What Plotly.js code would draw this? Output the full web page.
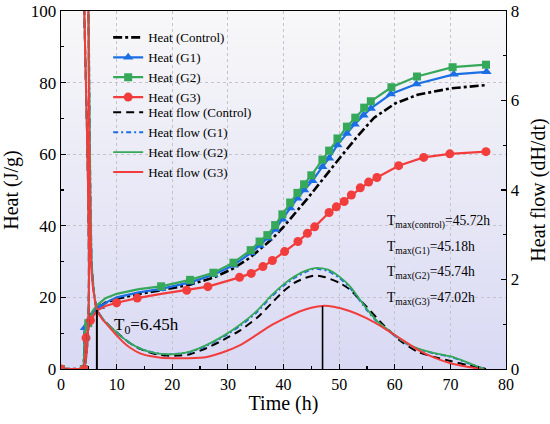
<!DOCTYPE html>
<html>
<head>
<meta charset="utf-8">
<script src="https://cdn.plot.ly/plotly-3.0.1.min.js"></script>
<style>
html,body{margin:0;padding:0;background:#fff;}
#chart{width:550px;height:424px;}
</style>
</head>
<body>
<div id="chart"></div>
<script>
// ---------- Heat (J/g), left axis ----------
const CTRL_HEAT_T = [0, 4.1, 4.3, 4.6, 5.2, 6.45, 8, 10, 14, 18, 23, 27.4, 31, 34, 38, 40, 44.3, 47.3, 50.3, 53.3, 56.3, 60.1, 64.1, 70.1, 76.4];
const CTRL_HEAT   = [0, 0, 10.5, 13.0, 15.0, 16.8, 18.5, 19.6, 21.0, 22.0, 23.5, 25.5, 28.1, 31.1, 36.4, 39.7, 47.6, 53.6, 59.3, 65.0, 70.2, 74.2, 76.6, 78.4, 79.3];

const G1_HEAT_T = [0, 4.1, 4.3, 5.0, 6.0, 7.0, 8.5, 10, 14, 18, 23.2, 27.4, 31.0, 34.1, 35.7, 37.1, 38.5, 39.8, 41.2, 42.5, 43.7, 45.2, 47.0, 48.2, 49.7, 51.4, 52.8, 54.4, 55.7, 59.3, 63.9, 70.6, 76.5];
const G1_HEAT   = [0, 0, 11.5, 14.3, 16.2, 17.4, 18.9, 20.0, 21.4, 22.4, 24.2, 26.3, 29.0, 32.4, 34.5, 36.5, 39.0, 41.8, 45.0, 47.7, 50.0, 52.6, 56.5, 58.9, 62.6, 65.8, 68.4, 70.9, 72.8, 76.8, 79.6, 82.3, 83.0];
const G1_MARKS  = [0, 4.1, 4.3, 7.0, 18, 23.2, 27.4, 31.0, 34.1, 35.7, 37.1, 38.5, 39.8, 41.2, 42.5, 43.7, 45.2, 47.0, 48.2, 49.7, 51.4, 52.8, 54.4, 55.7, 59.3, 63.9, 70.6, 76.5];

const G2_HEAT_T = [0, 4.1, 4.3, 4.9, 5.6, 6.45, 8, 10, 14, 18.0, 23.2, 27.4, 31.0, 34.1, 35.7, 37.1, 38.5, 39.8, 41.2, 42.5, 43.7, 45.0, 47.0, 48.2, 49.7, 51.4, 52.9, 54.5, 55.7, 59.4, 64.0, 70.4, 76.4];
const G2_HEAT   = [0, 0, 10.5, 12.8, 16.0, 17.8, 19.8, 21.0, 22.3, 23.1, 24.9, 26.9, 29.7, 33.2, 35.6, 37.4, 40.2, 43.2, 46.5, 49.2, 51.6, 54.1, 58.5, 61.0, 64.4, 67.7, 70.2, 73.0, 74.8, 78.7, 81.7, 84.3, 85.0];
const G2_MARKS  = [0, 4.1, 4.9, 18.0, 23.2, 27.4, 31.0, 34.1, 35.7, 37.1, 38.5, 39.8, 41.2, 42.5, 43.7, 45.0, 47.0, 48.2, 49.7, 51.4, 52.9, 54.5, 55.7, 59.4, 64.0, 70.4, 76.4];

const G3_HEAT_T = [0, 4.2, 4.5, 5.3, 6.45, 8, 10.0, 13.7, 18, 22.6, 26.4, 32.1, 34.2, 36.3, 38.0, 40.2, 42.6, 44.3, 45.6, 48.2, 49.5, 50.9, 52.2, 53.8, 55.3, 56.8, 60.7, 65.2, 69.9, 76.4];
const G3_HEAT   = [0, 0, 8.7, 13.6, 16.3, 17.6, 18.5, 19.8, 21.0, 22.0, 23.0, 25.6, 26.7, 28.6, 30.3, 32.8, 35.6, 37.9, 39.7, 43.7, 45.3, 46.8, 48.6, 50.6, 52.2, 53.5, 56.8, 59.1, 60.1, 60.7];
const G3_MARKS  = [0, 4.2, 4.5, 5.3, 10.0, 13.7, 22.6, 26.4, 32.1, 34.2, 36.3, 38.0, 40.2, 42.6, 44.3, 45.6, 48.2, 49.5, 50.9, 52.2, 53.8, 55.3, 56.8, 60.7, 65.2, 69.9, 76.4];

// ---------- Heat flow (dH/dt), right axis ----------
const CTRL_FLOW_T = [0, 4.0, 4.15, 4.45, 4.9, 5.15, 5.5, 6.0, 6.45, 7.5, 8.8, 10, 11.2, 12.5, 14.2, 15.5, 17.2, 19, 21, 23.2, 26.2, 29.2, 32.3, 35.3, 37.7, 40, 42, 44, 45.7, 47.5, 50, 52, 55, 58, 61, 64, 67, 70, 73, 76.4];
const CTRL_FLOW   = [0, 0, 8.5, 13, 8.5, 4.8, 2.3, 1.62, 1.32, 1.12, 0.95, 0.82, 0.69, 0.57, 0.45, 0.39, 0.33, 0.3, 0.3, 0.33, 0.47, 0.65, 0.87, 1.15, 1.45, 1.74, 1.93, 2.04, 2.09, 2.05, 1.93, 1.77, 1.38, 0.98, 0.63, 0.39, 0.27, 0.18, 0.09, 0];

const G1_FLOW_T = [0, 4.0, 4.15, 4.45, 4.95, 5.2, 5.55, 6.0, 6.45, 7.5, 8.8, 10, 11.2, 12.5, 14.2, 15.5, 17.2, 19, 21, 23.2, 26.2, 29.2, 32.3, 35.3, 37.7, 40, 42, 44, 45.2, 46, 48, 50, 52, 55.1, 57, 59.3, 62, 64.1, 67, 70.1, 73, 76.1];
const G1_FLOW   = [0, 0, 8.5, 13, 8.5, 4.9, 2.3, 1.65, 1.33, 1.12, 0.95, 0.82, 0.69, 0.57, 0.46, 0.4, 0.35, 0.33, 0.34, 0.38, 0.52, 0.72, 0.97, 1.28, 1.6, 1.86, 2.04, 2.17, 2.23, 2.24, 2.19, 2.04, 1.81, 1.3, 1.03, 0.81, 0.57, 0.45, 0.35, 0.27, 0.14, 0];

const G2_FLOW_T = [0, 4.0, 4.15, 4.45, 4.95, 5.2, 5.55, 6.0, 6.45, 7.5, 8.8, 10, 11.2, 12.5, 14.2, 15.5, 17.2, 19, 21, 23.2, 26.2, 29.2, 32.3, 35.3, 37.7, 40, 42, 44, 46, 48, 50, 52, 55.1, 57, 59.3, 62, 64.1, 67, 70.1, 73, 76.1];
const G2_FLOW   = [0, 0, 8.5, 13, 8.5, 4.9, 2.3, 1.65, 1.33, 1.12, 0.95, 0.82, 0.69, 0.57, 0.46, 0.4, 0.35, 0.33, 0.34, 0.39, 0.54, 0.74, 1.0, 1.31, 1.63, 1.89, 2.07, 2.2, 2.26, 2.22, 2.07, 1.84, 1.32, 1.05, 0.83, 0.58, 0.46, 0.36, 0.28, 0.15, 0];

const G3_FLOW_T = [0, 4.0, 4.15, 4.4, 4.85, 5.1, 5.5, 6.0, 6.45, 7.5, 8.8, 10, 11.2, 12.5, 14.2, 16, 18, 20.2, 23, 26.2, 29, 32.3, 35, 37.7, 40, 43, 45, 47, 49, 52, 55, 58, 61, 64, 67, 70, 73, 75.5];
const G3_FLOW   = [0, 0, 8.5, 13, 8.5, 4.9, 2.15, 1.6, 1.32, 1.1, 0.92, 0.75, 0.6, 0.47, 0.35, 0.29, 0.25, 0.24, 0.24, 0.27, 0.37, 0.54, 0.75, 0.97, 1.12, 1.29, 1.37, 1.41, 1.39, 1.29, 1.13, 0.92, 0.68, 0.44, 0.26, 0.13, 0.05, 0];

// ---------- Annotated values ----------
const T0 = 6.45;          // induction end (h)
const T0_HEAT = 16.5;     // heat level where T0 marker ends (J/g)
const TMAX_LABELS = [
  ["control", "45.72h"],
  ["G1", "45.18h"],
  ["G2", "45.74h"],
  ["G3", "47.02h"]
];
const TMAX_G3 = 47.02;

// ---------- Styling ----------
const FONT = "Liberation Serif";
const C_CTRL = "#000000", C_G1 = "#1c6fe3", C_G2 = "#35a85a", C_G3 = "#f23d3d";

function markIdx(T, marks) {
  return T.map((t, i) => marks.includes(t) ? i : -1).filter(i => i >= 0);
}

const traces = [
  {x: CTRL_HEAT_T, y: CTRL_HEAT, name: "Heat (Control)", mode: "lines", legend: "legend",
   line: {color: C_CTRL, width: 2.6, dash: "9px,3px,3px,3px"}},
  {x: G1_HEAT_T, y: G1_HEAT, name: "Heat (G1)", mode: "lines+markers", legend: "legend",
   line: {color: C_G1, width: 2.2}, marker: {symbol: "triangle-up", size: 9, color: C_G1},
   selectedpoints: markIdx(G1_HEAT_T, G1_MARKS),
   selected: {marker: {opacity: 1}}, unselected: {marker: {opacity: 0}}},
  {x: G2_HEAT_T, y: G2_HEAT, name: "Heat (G2)", mode: "lines+markers", legend: "legend",
   line: {color: C_G2, width: 2.2}, marker: {symbol: "square", size: 8, color: C_G2},
   selectedpoints: markIdx(G2_HEAT_T, G2_MARKS),
   selected: {marker: {opacity: 1}}, unselected: {marker: {opacity: 0}}},
  {x: G3_HEAT_T, y: G3_HEAT, name: "Heat (G3)", mode: "lines+markers", legend: "legend",
   line: {color: C_G3, width: 2.2}, marker: {symbol: "circle", size: 9, color: C_G3},
   selectedpoints: markIdx(G3_HEAT_T, G3_MARKS),
   selected: {marker: {opacity: 1}}, unselected: {marker: {opacity: 0}}},
  {x: CTRL_FLOW_T, y: CTRL_FLOW, name: "Heat flow (Control)", mode: "lines", yaxis: "y2", legend: "legend2",
   line: {color: C_CTRL, width: 2, dash: "8px,5px", shape: "spline", smoothing: 0.5}},
  {x: G1_FLOW_T, y: G1_FLOW, name: "Heat flow (G1)", mode: "lines", yaxis: "y2", legend: "legend2",
   line: {color: C_G1, width: 2, dash: "5px,3px,2px,3px", shape: "spline", smoothing: 0.5}},
  {x: G2_FLOW_T, y: G2_FLOW, name: "Heat flow (G2)", mode: "lines", yaxis: "y2", legend: "legend2",
   line: {color: C_G2, width: 1.8, shape: "spline", smoothing: 0.5}},
  {x: G3_FLOW_T, y: G3_FLOW, name: "Heat flow (G3)", mode: "lines", yaxis: "y2", legend: "legend2",
   line: {color: C_G3, width: 2, shape: "spline", smoothing: 0.5}}
];

const bgSvg = '<svg xmlns="http://www.w3.org/2000/svg" width="100" height="100" preserveAspectRatio="none">' +
  '<defs><linearGradient id="g" x1="0" y1="0" x2="0" y2="1">' +
  '<stop offset="0" stop-color="#f8f8f9"/><stop offset="1" stop-color="#d9d9f4"/></linearGradient></defs>' +
  '<rect width="100" height="100" fill="url(#g)"/></svg>';

const tmaxAnn = TMAX_LABELS.map((d, i) => ({
  xref: "x", yref: "paper", x: 58.3, y: 0.41 - i * 0.0715, xanchor: "left", yanchor: "middle",
  text: "T<sub>max(" + d[0] + ")</sub>=" + d[1], showarrow: false,
  font: {family: FONT, size: 13.6, color: "#000"}
}));

const peakG3 = Math.max(...G3_FLOW.filter((v, i) => G3_FLOW_T[i] > 20));

const legendBase = {x: 0.106, xanchor: "left", yanchor: "top", bgcolor: "rgba(0,0,0,0)",
                    font: {family: FONT, size: 13}, itemwidth: 30};

const layout = {
  width: 550, height: 424,
  margin: {l: 61, r: 44, t: 11, b: 55},
  paper_bgcolor: "#ffffff",
  plot_bgcolor: "rgba(0,0,0,0)",
  font: {family: FONT, color: "#000"},
  showlegend: true,
  legend: Object.assign({}, legendBase, {y: 0.968}),
  legend2: Object.assign({}, legendBase, {y: 0.759}),
  xaxis: {range: [0, 80], dtick: 10, tick0: 0, showline: true, linecolor: "#000", linewidth: 1.3, mirror: true,
          ticks: "inside", ticklen: 5, tickwidth: 1.2, tickcolor: "#000",
          minor: {dtick: 5, ticks: "inside", ticklen: 3, tickcolor: "#000", showgrid: false},
          showgrid: true, gridcolor: "#c4c4c8", gridwidth: 1, griddash: "3px,3px",
          zeroline: false, tickfont: {family: FONT, size: 16},
          title: {text: "Time (h)", font: {family: FONT, size: 20}, standoff: 1}},
  yaxis: {range: [0, 100], dtick: 20, tick0: 0, showline: true, linecolor: "#000", linewidth: 1.3,
          ticks: "inside", ticklen: 5, tickwidth: 1.2, tickcolor: "#000",
          minor: {dtick: 10, ticks: "inside", ticklen: 3, tickcolor: "#000", showgrid: false},
          showgrid: true, gridcolor: "#c4c4c8", gridwidth: 1, griddash: "3px,3px",
          zeroline: false, tickfont: {family: FONT, size: 17},
          title: {text: "Heat (J/g)", font: {family: FONT, size: 20}, standoff: 6}},
  yaxis2: {range: [0, 8], dtick: 2, tick0: 0, overlaying: "y", side: "right", showline: true,
           linecolor: "#000", linewidth: 1.3, ticks: "inside", ticklen: 5, tickwidth: 1.2, tickcolor: "#000",
           minor: {dtick: 1, ticks: "inside", ticklen: 3, tickcolor: "#000", showgrid: false},
           showgrid: false, zeroline: false, tickfont: {family: FONT, size: 17},
           title: {text: "Heat flow (dH/dt)", font: {family: FONT, size: 20}, standoff: 13}},
  images: [{source: "data:image/svg+xml;charset=utf-8," + encodeURIComponent(bgSvg),
            xref: "paper", yref: "paper", x: 0, y: 1, sizex: 1, sizey: 1,
            sizing: "stretch", layer: "below", xanchor: "left", yanchor: "top"}],
  shapes: [
    {type: "line", xref: "x", yref: "y", x0: T0, x1: T0, y0: 0, y1: T0_HEAT, line: {color: "#000", width: 2}},
    {type: "line", xref: "x", yref: "y2", x0: TMAX_G3, x1: TMAX_G3, y0: 0, y1: peakG3, line: {color: "#000", width: 1.6}}
  ],
  annotations: [
    {xref: "x", yref: "y", x: 9.2, y: 12.0, xanchor: "left", yanchor: "middle", showarrow: false,
     text: "T<sub>0</sub>=" + T0 + "h", font: {family: FONT, size: 17, color: "#000"}}
  ].concat(tmaxAnn)
};

Plotly.newPlot("chart", traces, layout, {displayModeBar: false, staticPlot: true});
</script>
</body>
</html>
